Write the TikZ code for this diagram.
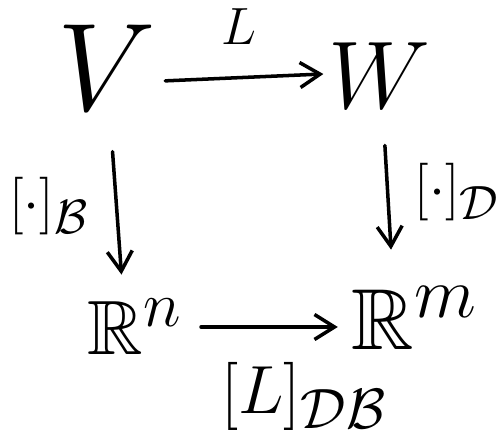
\documentclass[tikz,border=0pt]{standalone}
\usepackage{amssymb}
\usetikzlibrary{arrows.meta}

\begin{document}
\begin{tikzpicture}[obj/.style = {font=\Huge, scale=2.2, inner sep=1pt}, lab/.style = {font=\Huge, scale=1.2, inner sep=1pt}, arr/.style = {-{Straight Barb[length=4mm, width=5mm]}, line width=2pt, line cap=round}]

    \useasboundingbox (0,0) rectangle (9.98,8.84);

    % 1. Obiekty diagramu
    \node[obj, scale=1.3] (V) at (2.14,7.48) {$V$};
    \node[obj] (W) at (7.58,7.32) {$W$};
    \node[obj, scale=0.8] (Rn) at (2.70,2.30) {$\mathbb{R}^n$};
    \node[obj, scale=0.9] (Rm) at (8.30,2.48) {$\mathbb{R}^m$};

    % 2. Strzałki
    \draw[arr, shorten <=0.06cm] ([yshift=-0.26cm]V.east) -- ([yshift=0.04cm]W.west);
    \draw[arr, shorten <=0.7cm, shorten >=0.42cm] ([xshift=0.06cm]V.south) -- ([xshift=-0.24cm]Rn.north);
    \draw[arr, shorten <=0.64cm, shorten >=0.66cm] ([xshift=0.08cm]W.south) -- ([xshift=-0.44cm]Rm.north);
    \draw[arr, shorten <=0.3cm, shorten >=0.2cm] (Rn.east) -- ([yshift=-0.18cm]Rm.west);

    % 3. Etykiety strzałek
    \node[lab] (L) at (4.78,8.30) {$L$};
    \node[lab, scale=1.1] (B) at (0.98,4.72) {$[\cdot]_{\mathcal{B}}$};
    \node[lab, scale=1.1] (D) at (9.14,5.00) {$[\cdot]_{\mathcal{D}}$};
    \node[lab, scale=1.3] (LDB) at (6.08,0.92) {$[L]_{\mathcal{D}\mathcal{B}}$};
\end{tikzpicture}
\end{document}
